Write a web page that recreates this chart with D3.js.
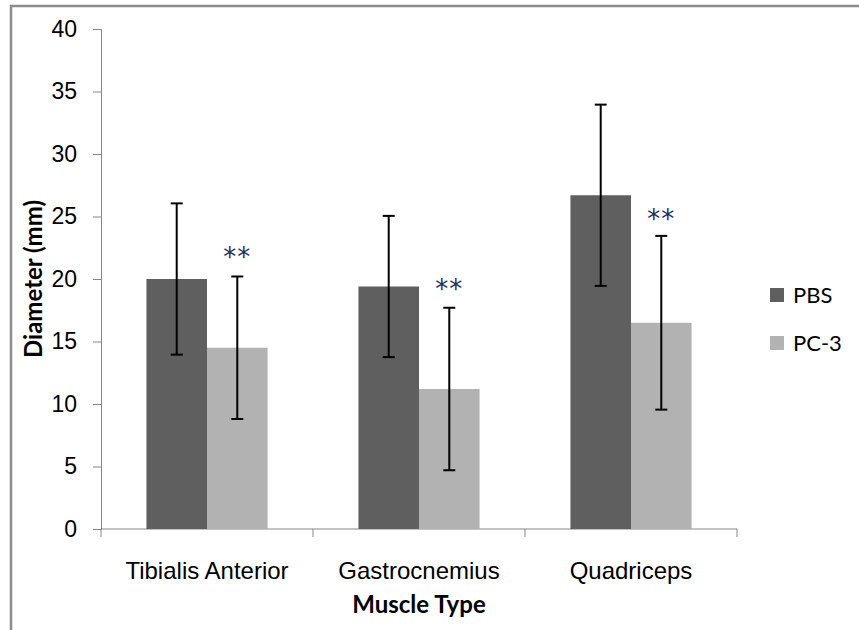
<!DOCTYPE html>
<html>
<head>
<meta charset="utf-8">
<script src="https://cdn.jsdelivr.net/npm/d3@7"></script>
<style>
  body { margin: 0; background: #fff; }
  svg { display: block; font-family: Lato, "Open Sans", sans-serif; }
</style>
</head>
<body>
<svg id="chart" width="859" height="630"></svg>
<script>
const categories = ['Tibialis Anterior', 'Gastrocnemius', 'Quadriceps'];
const seriesNames = ['PBS', 'PC-3'];
const pbs = [20.0, 19.4, 26.7];
const pc3 = [14.5, 11.2, 16.5];
const pbsErr = [6.05, 5.65, 7.25];
const pc3Err = [5.7, 6.5, 6.95];
const starLabels = ['**', '**', '**'];
const starAt = [22.3, 19.7, 25.3];
const yTicks = [0, 5, 10, 15, 20, 25, 30, 35, 40];
const colors = ['#5f5f5f', '#b2b2b2'];

const svg = d3.select('#chart');
const pl = 101, pr = 737, pt = 29, pb = 529;

// outer frame (runs off the right and bottom edges)
svg.append('path')
  .attr('d', `M11,${pb + 200}V6H870`)
  .attr('fill', 'none').attr('stroke', '#8c8c8c').attr('stroke-width', 2.5);

const x = d3.scaleBand().domain(categories).range([pl, pr]);
const inner = d3.scaleBand().domain(seriesNames).range([0, x.bandwidth()]).paddingInner(0).paddingOuter(0.75);
const y = d3.scaleLinear().domain([0, 40]).range([pb, pt]);

const yAxis = svg.append('g').attr('transform', `translate(${pl},0)`)
  .call(d3.axisLeft(y).tickValues(yTicks).tickSize(8).tickPadding(16));
yAxis.select('.domain').attr('stroke', '#868686');
yAxis.selectAll('.tick line').attr('stroke', '#868686');
yAxis.selectAll('.tick text').attr('font-size', 23).attr('fill', '#000');

const xAxis = svg.append('g').attr('transform', `translate(0,${pb})`)
  .call(d3.axisBottom(x).tickSize(0).tickPadding(33));
xAxis.select('.domain').attr('stroke', '#868686').attr('d', `M${pl},0H${pr}`);
xAxis.selectAll('.tick text').attr('font-size', 24).attr('fill', '#000');
svg.append('g').selectAll('line')
  .data(d3.range(categories.length + 1))
  .join('line')
  .attr('x1', i => pl + i * x.step()).attr('x2', i => pl + i * x.step())
  .attr('y1', pb).attr('y2', pb + 8)
  .attr('stroke', '#868686');

const rows = categories.map((c, i) => ({
  c,
  vals: [
    { s: 'PBS', v: pbs[i], e: pbsErr[i] },
    { s: 'PC-3', v: pc3[i], e: pc3Err[i] }
  ]
}));

const grp = svg.append('g').selectAll('g')
  .data(rows).join('g')
  .attr('transform', d => `translate(${x(d.c)},0)`);

grp.selectAll('rect')
  .data(d => d.vals).join('rect')
  .attr('x', d => inner(d.s))
  .attr('width', inner.bandwidth())
  .attr('y', d => y(d.v))
  .attr('height', d => y(0) - y(d.v))
  .attr('fill', (d, i) => colors[i]);

const eb = grp.selectAll('g.err')
  .data(d => d.vals).join('g').attr('class', 'err')
  .attr('transform', d => `translate(${inner(d.s) + inner.bandwidth() / 2},0)`)
  .attr('stroke', '#000').attr('stroke-width', 2);
eb.append('line').attr('y1', d => y(d.v - d.e)).attr('y2', d => y(d.v + d.e));
eb.append('line').attr('x1', -6).attr('x2', 6).attr('y1', d => y(d.v + d.e)).attr('y2', d => y(d.v + d.e));
eb.append('line').attr('x1', -6).attr('x2', 6).attr('y1', d => y(d.v - d.e)).attr('y2', d => y(d.v - d.e));

svg.append('g').selectAll('text')
  .data(categories).join('text')
  .attr('x', c => x(c) + inner('PC-3') + inner.bandwidth() / 2)
  .attr('y', (c, i) => y(starAt[i]))
  .attr('dy', '0.6em')
  .attr('text-anchor', 'middle')
  .attr('font-family', '"DejaVu Sans", sans-serif')
  .attr('font-size', 26).attr('fill', '#1f2d5a')
  .attr('letter-spacing', 1)
  .text((c, i) => starLabels[i]);

svg.append('text')
  .attr('transform', `translate(42,${(pt + pb) / 2}) rotate(-90)`)
  .attr('text-anchor', 'middle')
  .attr('font-size', 24).attr('font-weight', 'bold')
  .text('Diameter (mm)');

svg.append('text')
  .attr('x', (pl + pr) / 2).attr('y', 613)
  .attr('text-anchor', 'middle')
  .attr('font-size', 24).attr('font-weight', 'bold')
  .text('Muscle Type');

const legend = svg.append('g').selectAll('g')
  .data(seriesNames).join('g')
  .attr('transform', (d, i) => `translate(770,${295 + i * 48})`);
legend.append('rect').attr('y', -7).attr('width', 14).attr('height', 14).attr('fill', (d, i) => colors[i]);
legend.append('text').attr('x', 23).attr('dy', '0.35em').attr('font-size', 22).text(d => d);
</script>
</body>
</html>
